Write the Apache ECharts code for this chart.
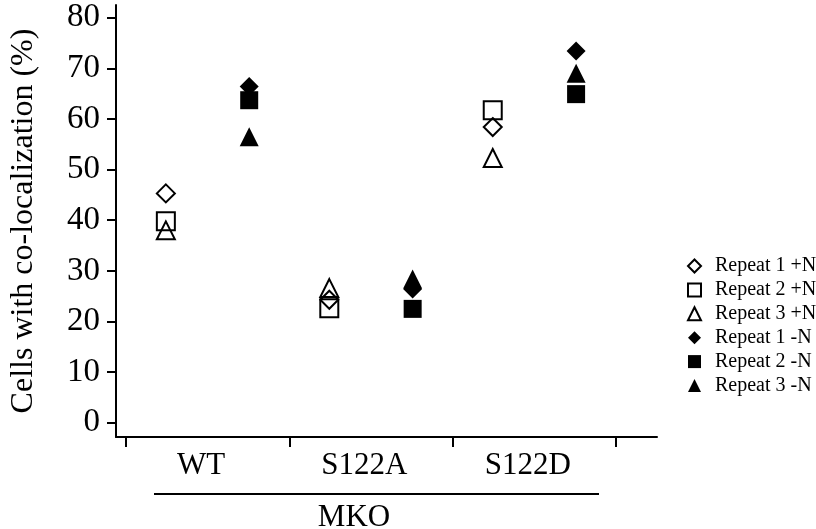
<!DOCTYPE html>
<html>
<head>
<meta charset="utf-8">
<script src="https://cdn.jsdelivr.net/npm/echarts@6/dist/echarts.min.js"></script>
<style>
	html, body { margin: 0; padding: 0; background: #fff; }
	#chart { width: 816px; height: 529px; }
</style>
</head>
<body>
<div id="chart"></div>
<script>
var categories = ['WT', 'S122A', 'S122D'];
var yTicks = [0, 10, 20, 30, 40, 50, 60, 70, 80];

// % cells with co-localization, one value per category
var repeat1Plus = [45.3, 24.3, 58.4];
var repeat2Plus = [39.8, 22.6, 61.7];
var repeat3Plus = [38.0, 26.6, 52.3];
var repeat1Minus = [66.4, 26.4, 73.4];
var repeat2Minus = [63.7, 22.5, 64.9];
var repeat3Minus = [56.5, 28.4, 69.0];

var FONT = '"Liberation Serif", "DejaVu Serif", serif';
var INK = '#000';

// where the +N / -N columns sit inside a category slot
var plusOffset = 0.245;
var minusOffset = 0.755;
var labelOffset = 0.46;

function toPoints(values, offset){
	return values.map(function(v, i){ return [i + offset, v]; });
}

function makeSeries(name, values, offset, symbol, size, open){
	return {
		name: name,
		type: 'scatter',
		symbol: symbol,
		symbolSize: size,
		symbolKeepAspect: true,
		data: toPoints(values, offset),
		itemStyle: open ? {
			color: 'rgba(0,0,0,0)',
			borderColor: INK,
			borderWidth: 2,
			opacity: 1
		} : {
			color: INK,
			borderWidth: 0,
			opacity: 1
		},
		emphasis: { disabled: true }
	};
}

var chart = echarts.init(document.getElementById('chart'));

var option = {
	animation: false,
	grid: { left: 116, right: 159, top: 5, bottom: 92, containLabel: false, outerBoundsMode: 'none' },
	legend: {
		orient: 'vertical',
		left: 687,
		top: 256,
		padding: 0,
		itemWidth: 13,
		itemHeight: 13,
		itemGap: 3.9,
		symbolKeepAspect: true,
		textStyle: { fontFamily: FONT, fontSize: 20, lineHeight: 20, color: INK, padding: [0, 0, 0, 9] },
		data: ['Repeat 1 +N', 'Repeat 2 +N', 'Repeat 3 +N', 'Repeat 1 -N', 'Repeat 2 -N', 'Repeat 3 -N']
	},
	xAxis: {
		type: 'value',
		min: -0.06,
		max: 3.25,
		splitLine: { show: false },
		axisLine: { show: true, onZero: false, lineStyle: { color: INK, width: 2 } },
		axisTick: { show: true, length: 10, customValues: [0, 1, 2, 3], lineStyle: { color: INK, width: 2 } },
		axisLabel: {
			customValues: categories.map(function(c, i){ return i + labelOffset; }),
			formatter: function(v){ return categories[Math.floor(v)] || ''; },
			fontFamily: FONT, fontSize: 31, color: INK, margin: 13
		}
	},
	yAxis: {
		type: 'value',
		min: -2.8,
		max: 82.5,
		name: 'Cells with co-localization (%)',
		nameLocation: 'middle',
		nameGap: 76,
		nameTextStyle: { fontFamily: FONT, fontSize: 32, color: INK },
		splitLine: { show: false },
		axisLine: { show: true, onZero: false, lineStyle: { color: INK, width: 2 } },
		axisTick: { show: true, length: 9, customValues: yTicks, lineStyle: { color: INK, width: 2 } },
		axisLabel: { customValues: yTicks, fontFamily: FONT, fontSize: 33, color: INK, margin: 16 }
	},
	graphic: [
		{ type: 'line', shape: { x1: 154, y1: 494, x2: 599, y2: 494 }, style: { stroke: INK, lineWidth: 2 } },
		{ type: 'text', x: 354, y: 518, style: { text: 'MKO', font: '31px ' + FONT, fill: INK, textAlign: 'center', textVerticalAlign: 'middle' } }
	],
	series: [
		makeSeries('Repeat 1 +N', repeat1Plus, plusOffset, 'diamond', 18, true),
		makeSeries('Repeat 2 +N', repeat2Plus, plusOffset, 'rect', 18, true),
		makeSeries('Repeat 3 +N', repeat3Plus, plusOffset, 'triangle', 18, true),
		makeSeries('Repeat 1 -N', repeat1Minus, minusOffset, 'diamond', 19, false),
		makeSeries('Repeat 2 -N', repeat2Minus, minusOffset, 'rect', 18, false),
		makeSeries('Repeat 3 -N', repeat3Minus, minusOffset, 'triangle', 19, false)
	]
};

chart.setOption(option);
</script>
</body>
</html>
